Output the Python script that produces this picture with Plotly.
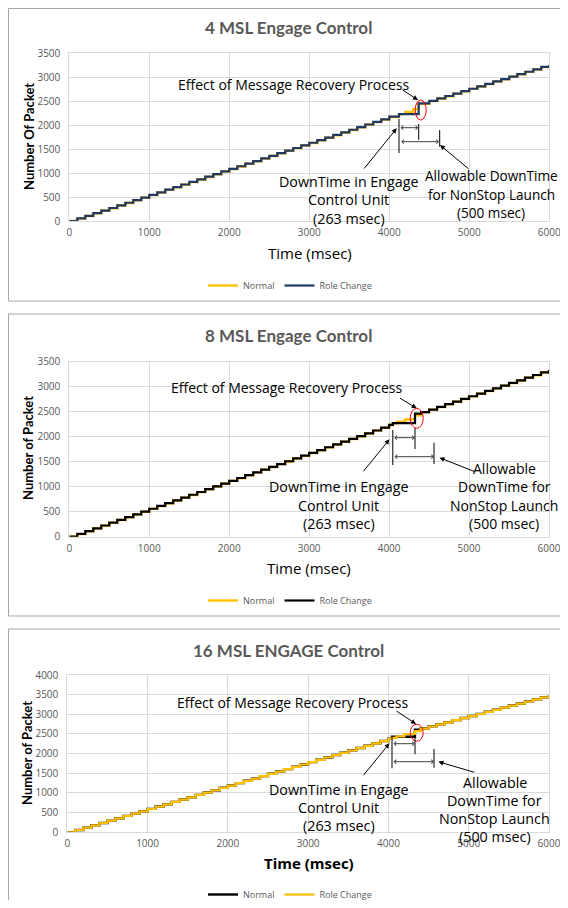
import plotly.graph_objects as go

# ---------------- DATA ----------------
time_4msl = [0, 100, 200, 300, 400, 500, 600, 700, 800, 900,
             1000, 1100, 1200, 1300, 1400, 1500, 1600, 1700, 1800, 1900,
             2000, 2100, 2200, 2300, 2400, 2500, 2600, 2700, 2800, 2900,
             3000, 3100, 3200, 3300, 3400, 3500, 3600, 3700, 3800, 3900,
             4000, 4121, 4200, 4300, 4367,
             4500, 4600, 4700, 4800, 4900, 5000, 5100, 5200, 5300, 5400,
             5500, 5600, 5700, 5800, 5900, 6000]
normal_4msl = [0, 50, 104, 158, 214, 266, 322, 376, 430, 484,
               540, 592, 648, 702, 756, 810, 866, 918, 974, 1028,
               1082, 1136, 1190, 1246, 1300, 1354, 1408, 1462, 1518, 1572,
               1626, 1680, 1734, 1788, 1844, 1896, 1952, 2006, 2060, 2114,
               2168, 2226, 2272, 2330, 2440,
               2498, 2548, 2600, 2650, 2700, 2752, 2802, 2852, 2904, 2954,
               3004, 3054, 3106, 3156, 3206, 3246]
role_4msl = [0, 54, 108, 163, 217, 271, 326, 380, 434, 489,
             543, 597, 652, 706, 760, 815, 869, 923, 978, 1032,
             1086, 1141, 1195, 1249, 1304, 1358, 1412, 1467, 1521, 1575,
             1630, 1684, 1738, 1793, 1847, 1901, 1956, 2010, 2064, 2119,
             2173, 2226, 2226, 2226, 2452,
             2503, 2553, 2604, 2654, 2705, 2755, 2806, 2856, 2907, 2957,
             3008, 3058, 3109, 3159, 3210, 3250]

time_8msl = [0, 100, 200, 300, 400, 500, 600, 700, 800, 900,
             1000, 1100, 1200, 1300, 1400, 1500, 1600, 1700, 1800, 1900,
             2000, 2100, 2200, 2300, 2400, 2500, 2600, 2700, 2800, 2900,
             3000, 3100, 3200, 3300, 3400, 3500, 3600, 3700, 3800, 3900,
             4000, 4046, 4100, 4200, 4324,
             4400, 4500, 4600, 4700, 4800, 4900, 5000, 5100, 5200, 5300,
             5400, 5500, 5600, 5700, 5800, 5900, 6000]
normal_8msl = [0, 52, 110, 164, 222, 276, 333, 387, 445, 499,
               557, 611, 669, 723, 781, 835, 892, 946, 1004, 1058,
               1116, 1170, 1228, 1282, 1340, 1394, 1451, 1505, 1563, 1617,
               1675, 1729, 1787, 1841, 1899, 1953, 2010, 2064, 2122, 2176,
               2234, 2268, 2300, 2345, 2430,
               2486, 2540, 2592, 2648, 2700, 2754, 2806, 2860, 2912, 2966,
               3018, 3072, 3124, 3178, 3230, 3284, 3330]
role_8msl = [0, 56, 112, 168, 224, 280, 335, 391, 447, 503,
             559, 615, 671, 727, 783, 839, 894, 950, 1006, 1062,
             1118, 1174, 1230, 1286, 1342, 1398, 1453, 1509, 1565, 1621,
             1677, 1733, 1789, 1845, 1901, 1957, 2012, 2068, 2124, 2180,
             2236, 2272, 2272, 2272, 2462,
             2490, 2543, 2596, 2650, 2703, 2756, 2809, 2862, 2915, 2968,
             3022, 3075, 3128, 3181, 3234, 3287, 3334]

time_16msl = [0, 100, 200, 300, 400, 500, 600, 700, 800, 900,
              1000, 1100, 1200, 1300, 1400, 1500, 1600, 1700, 1800, 1900,
              2000, 2100, 2200, 2300, 2400, 2500, 2600, 2700, 2800, 2900,
              3000, 3100, 3200, 3300, 3400, 3500, 3600, 3700, 3800, 3900,
              4000, 4044, 4100, 4200, 4330,
              4400, 4500, 4600, 4700, 4800, 4900, 5000, 5100, 5200, 5300,
              5400, 5500, 5600, 5700, 5800, 5900, 6000]
normal_16msl = [0, 60, 119, 179, 238, 298, 357, 417, 476, 536,
                595, 655, 714, 774, 833, 893, 952, 1012, 1071, 1131,
                1190, 1250, 1309, 1369, 1428, 1488, 1547, 1607, 1666, 1726,
                1785, 1845, 1904, 1964, 2023, 2083, 2142, 2202, 2261, 2321,
                2380, 2428, 2428, 2428, 2610,
                2640, 2693, 2746, 2799, 2852, 2905, 2958, 3011, 3064, 3117,
                3170, 3223, 3276, 3329, 3382, 3435, 3488]
role_16msl = [0, 58, 116, 178, 236, 296, 355, 415, 474, 534,
              593, 652, 712, 772, 831, 890, 950, 1010, 1069, 1128,
              1188, 1248, 1307, 1366, 1426, 1486, 1545, 1604, 1664, 1724,
              1783, 1842, 1902, 1962, 2021, 2080, 2140, 2200, 2259, 2318,
              2378, 2400, 2440, 2500, 2575,
              2636, 2690, 2743, 2796, 2850, 2902, 2956, 3008, 3062, 3114,
              3168, 3220, 3274, 3326, 3380, 3432, 3486]

titles = ["4 MSL Engage Control", "8 MSL Engage Control", "16 MSL ENGAGE Control"]
ytitles = ["Number Of Packet", "Number of Packet", "Number of Packet"]
x_title = "Time (msec)"
series_names = ["Normal", "Role Change"]
y_max = [3500, 3500, 4000]

# ---------------- LAYOUT HELPERS ----------------
# The page body keeps its default 8px margin, so the figure is sized to fit
# the 568x908 window exactly and all positions below are window pixels.
OFF = 8
W, H = 568 - 2 * OFF, 908 - 2 * OFF
TFONT = "Lato, sans-serif"
FONT = "'Open Sans', sans-serif"


def px(x):
    return (x - OFF) / W


def py(y):
    return 1 - (y - OFF) / H


YELLOW = "#FFC000"
NAVY = "#1F3864"
BLACK = "#000000"
GRID = "#D9D9D9"
GREY_TXT = "#595959"

fig = go.Figure()

panels = [
    dict(t=time_4msl, n=normal_4msl, r=role_4msl, ncol=YELLOW, rcol=NAVY,
         xd=(69.3, 549.3), yd=(53, 221)),
    dict(t=time_8msl, n=normal_8msl, r=role_8msl, ncol=YELLOW, rcol=BLACK,
         xd=(69.3, 549.0), yd=(361.7, 536.7)),
    dict(t=time_16msl, n=normal_16msl, r=role_16msl, ncol=BLACK, rcol=YELLOW,
         xd=(67.3, 549.0), yd=(675, 832.3)),
]

legend_y = [285.5, 600.5, 894.5]

for i, p in enumerate(panels):
    sfx = "" if i == 0 else str(i + 1)
    leg = "legend" if i == 0 else f"legend{i + 1}"
    fig.add_trace(go.Scatter(x=p["t"], y=p["n"], mode="lines", line_shape="hv",
                             line=dict(color=p["ncol"], width=2.4), name=series_names[0],
                             xaxis="x" + sfx, yaxis="y" + sfx, legend=leg))
    fig.add_trace(go.Scatter(x=p["t"], y=p["r"], mode="lines", line_shape="hv",
                             line=dict(color=p["rcol"], width=2.2), name=series_names[1],
                             xaxis="x" + sfx, yaxis="y" + sfx, legend=leg))
    ax_common = dict(showgrid=True, gridcolor=GRID, gridwidth=1, zeroline=False,
                     showline=True, linecolor=GRID, linewidth=1, mirror=True,
                     automargin=False,
                     tickfont=dict(family=FONT, size=10, color=GREY_TXT), ticks="")
    fig.layout["xaxis" + sfx] = dict(domain=[px(p["xd"][0]), px(p["xd"][1])],
                                     range=[0, 6000], dtick=1000, tick0=0,
                                     ticklabeloverflow="allow",
                                     anchor="y" + sfx, ticklabelstandoff=2, **ax_common)
    fig.layout["yaxis" + sfx] = dict(domain=[py(p["yd"][1]), py(p["yd"][0])],
                                     range=[0, y_max[i]], dtick=500, tick0=0,
                                     anchor="x" + sfx, ticklabelstandoff=6, **ax_common)
    fig.layout[leg] = dict(orientation="h", x=px(290), y=py(legend_y[i]), xanchor="center",
                           yanchor="middle", font=dict(family=FONT, size=9, color=GREY_TXT),
                           itemwidth=30, bgcolor="rgba(0,0,0,0)", tracegroupgap=0)

# ---------------- ANNOTATIONS ----------------
ann = []
shapes = []


def text(x, y, s, size, color="#000000", bold=False, angle=0, family=FONT):
    if bold:
        s = "<b>" + s + "</b>"
    ann.append(dict(x=px(x), y=py(y), xref="paper", yref="paper", text=s, showarrow=False,
                    font=dict(family=family, size=size, color=color), xanchor="center",
                    yanchor="middle", textangle=angle, align="center"))


def lines(x, ys, strs, size=14.3):
    for yy, s in zip(ys, strs):
        text(x, yy, s, size)


def arrow(hx, hy, tx, ty, head=2, both=False, color="#000000", size=1):
    ann.append(dict(x=px(hx), y=py(hy), xref="paper", yref="paper", text="", showarrow=True,
                    ax=tx - hx, ay=ty - hy, axref="pixel", ayref="pixel",
                    arrowhead=head, arrowsize=size, arrowwidth=1, arrowcolor=color,
                    arrowside="end+start" if both else "end", startarrowhead=head,
                    startarrowsize=size, standoff=0, startstandoff=0))


def vline(x, y0, y1, color="#000000", w=1):
    shapes.append(dict(type="line", xref="paper", yref="paper", x0=px(x), x1=px(x),
                       y0=py(y0), y1=py(y1), line=dict(color=color, width=w)))


def ellipse(cx, cy, w, h):
    shapes.append(dict(type="circle", xref="paper", yref="paper", x0=px(cx - w / 2),
                       x1=px(cx + w / 2), y0=py(cy + h / 2), y1=py(cy - h / 2),
                       line=dict(color="#FF0000", width=1)))


def box(x0, y0, x1, y1):
    shapes.append(dict(type="rect", xref="paper", yref="paper", x0=px(x0), x1=px(x1),
                       y0=py(y1), y1=py(y0), line=dict(color="#A6A6A6", width=1),
                       fillcolor="rgba(0,0,0,0)", layer="below"))


# panel frames
box(8.5, 8.5, 600, 301)
box(8.5, 314, 600, 616)
box(8.5, 629, 600, 950)

DT = ["DownTime in Engage", "Control Unit", "(263 msec)"]

# Panel 1
text(288, 27, titles[0], 17, GREY_TXT, bold=True, family=TFONT)
text(29, 137, ytitles[0], 13, bold=True, angle=-90, family=TFONT)
text(310, 253, x_title, 15)
text(293.5, 84, "Effect of Message Recovery Process", 14)
arrow(418, 100, 401, 89)
ellipse(420.7, 110, 11, 20)
vline(399, 119, 153)
vline(418.7, 124, 140)
vline(439.7, 130, 146.7)
arrow(418.3, 127.7, 399, 127.7, head=4, both=True, color="#404040", size=0.8)
arrow(439, 141.7, 399.7, 141.7, head=4, both=True, color="#404040", size=0.8)
lines(348.5, [181.7, 200, 218], DT)
arrow(396.7, 128.3, 363, 170)
lines(491, [175.7, 194, 212.7], ["Allowable DownTime", "for NonStop Launch", "(500 msec)"], size=13.6)
arrow(440, 145, 470, 170)

# Panel 2
text(288, 335, titles[1], 17, GREY_TXT, bold=True, family=TFONT)
text(28, 448, ytitles[1], 13, bold=True, angle=-90, family=TFONT)
text(309, 568.3, x_title, 15)
text(286, 387.3, "Effect of Message Recovery Process", 14)
arrow(416.7, 408.3, 398.5, 397.3)
ellipse(416.7, 418.3, 13, 20)
vline(392.8, 430, 465)
vline(415, 428, 449)
vline(434, 442.7, 464)
arrow(414.9, 437.7, 392.8, 437.7, head=4, both=True, color="#404040", size=0.8)
arrow(434, 456.7, 393, 456.7, head=4, both=True, color="#404040", size=0.8)
lines(338.8, [486.7, 505.3, 523.7], DT)
arrow(389.5, 439.3, 362.3, 472.7)
lines(504, [468, 486.7, 505, 523.3], ["Allowable", "DownTime for", "NonStop Launch", "(500 msec)"], size=14)
arrow(439.5, 457.7, 476.4, 472.3)

# Panel 3
text(288, 650, titles[2], 17, GREY_TXT, bold=True, family=TFONT)
text(27, 753, ytitles[2], 13, bold=True, angle=-90, family=TFONT)
text(309, 863.3, "<b>" + x_title + "</b>", 15)
text(292.8, 702.3, "Effect of Message Recovery Process", 14)
arrow(416, 724, 395, 710)
ellipse(416.7, 732.7, 13, 17)
vline(392, 736.7, 768.3)
vline(415, 737, 754.3)
vline(434, 749, 767.7)
arrow(414.9, 743.7, 392, 743.7, head=4, both=True, color="#404040", size=0.8)
arrow(434, 761.7, 392, 761.7, head=4, both=True, color="#404040", size=0.8)
lines(338.8, [789.3, 807.3, 825.3], DT)
arrow(389.5, 743.3, 362.3, 776.7)
lines(494.6, [782.3, 800.7, 818.3, 836], ["Allowable", "DownTime for", "NonStop Launch", "(500 msec)"])
arrow(438.4, 761.7, 475.7, 772.7)

fig.update_layout(width=W, height=H, margin=dict(l=0, r=0, t=0, b=0, autoexpand=False),
                  paper_bgcolor="white", plot_bgcolor="white",
                  font=dict(family=FONT), annotations=ann, shapes=shapes)

fig.write_html("out.html")
